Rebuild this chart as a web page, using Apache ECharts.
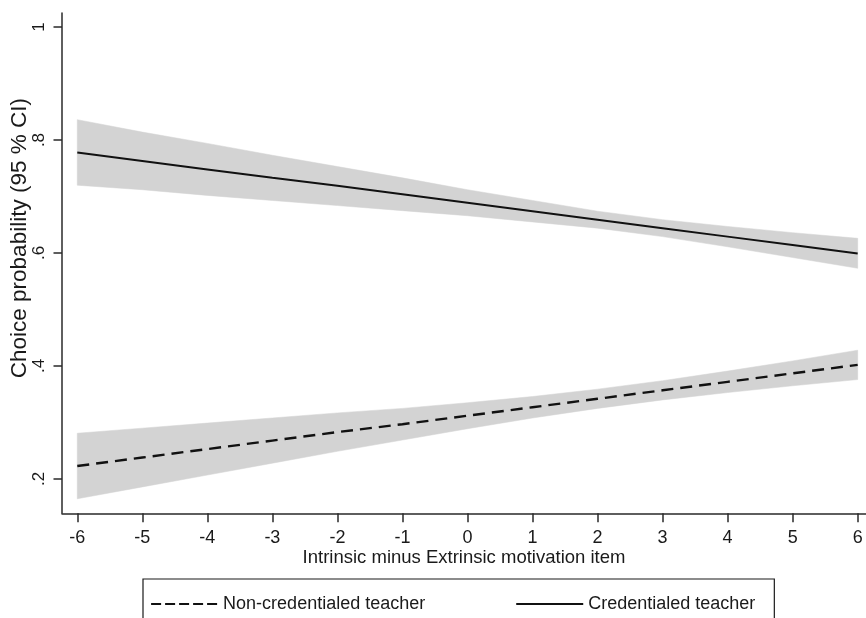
<!DOCTYPE html>
<html>
<head>
<meta charset="utf-8">
<script src="https://cdn.jsdelivr.net/npm/echarts@6/dist/echarts.min.js"></script>
<style>html,body{margin:0;padding:0;background:#fff}#c{width:866px;height:618px}</style>
</head>
<body>
<div id="c"></div>
<script>
var xValues = [-6, -5, -4, -3, -2, -1, 0, 1, 2, 3, 4, 5, 6];
var credLine  = [0.778, 0.763, 0.748, 0.733, 0.719, 0.704, 0.689, 0.674, 0.659, 0.644, 0.629, 0.614, 0.599];
var credUpper = [0.836, 0.814, 0.794, 0.773, 0.753, 0.733, 0.712, 0.693, 0.674, 0.659, 0.647, 0.636, 0.626];
var credLower = [0.720, 0.712, 0.702, 0.693, 0.684, 0.675, 0.666, 0.655, 0.644, 0.629, 0.611, 0.592, 0.573];
var nonLine   = [0.223, 0.238, 0.253, 0.268, 0.283, 0.297, 0.312, 0.327, 0.342, 0.357, 0.372, 0.387, 0.402];
var nonUpper  = [0.281, 0.290, 0.299, 0.308, 0.317, 0.325, 0.335, 0.346, 0.359, 0.374, 0.391, 0.409, 0.428];
var nonLower  = [0.165, 0.186, 0.207, 0.228, 0.249, 0.269, 0.289, 0.308, 0.325, 0.340, 0.353, 0.365, 0.376];
var xTicks = [-6, -5, -4, -3, -2, -1, 0, 1, 2, 3, 4, 5, 6];
var yTicks = [0.2, 0.4, 0.6, 0.8, 1];
var yTickLabels = ['.2', '.4', '.6', '.8', '1'];
var xTitle = 'Intrinsic minus Extrinsic motivation item';
var yTitle = 'Choice probability (95 % CI)';
var nameNon = 'Non-credentialed teacher';
var nameCred = 'Credentialed teacher';

var FONT = "'Liberation Sans', Arial, Helvetica, sans-serif";
var AX = '#2a2a2a';
var TXT = '#1a1a1a';
var BAND = '#d3d3d3';

function pairs(arr) { return xValues.map(function (x, i) { return [x, arr[i]]; }); }
function bandData(lo, up) { return xValues.map(function (x, i) { return [x, lo[i], up[i]]; }); }

function bandRenderer(lo, up) {
  return function (params, api) {
    if (params.dataIndex !== 0) return null;
    var pts = [];
    for (var i = 0; i < xValues.length; i++) pts.push(api.coord([xValues[i], up[i]]));
    for (var j = xValues.length - 1; j >= 0; j--) pts.push(api.coord([xValues[j], lo[j]]));
    return { type: 'polygon', shape: { points: pts }, style: { fill: BAND, stroke: BAND, lineWidth: 0.5 } };
  };
}

var chart = echarts.init(document.getElementById('c'), null, { renderer: 'canvas' });
chart.setOption({
  animation: false,
  backgroundColor: '#fff',
  textStyle: { fontFamily: FONT },
  grid: { left: 62, right: 0, top: 13, bottom: 104.7, outerBoundsMode: 'none', containLabel: false },
  xAxis: {
    type: 'value', min: -6.235, max: 6.128,
    name: xTitle, nameLocation: 'middle', nameGap: 35, nameMoveOverlap: false,
    nameTextStyle: { fontSize: 18.5, color: TXT, fontFamily: FONT },
    axisLine: { show: true, onZero: false, lineStyle: { color: AX, width: 1.5 } },
    axisTick: { show: true, length: 9, lineStyle: { color: AX, width: 1.5 }, customValues: xTicks },
    axisLabel: { customValues: xTicks, fontSize: 18, color: TXT, margin: 16, fontFamily: FONT },
    splitLine: { show: false }
  },
  yAxis: {
    type: 'value', min: 0.1393, max: 1.0248,
    name: yTitle, nameLocation: 'middle', nameGap: 30.5, nameRotate: 90, nameMoveOverlap: false,
    nameTextStyle: { fontSize: 22.5, color: TXT, fontFamily: FONT, padding: [0, 0, 0, 50] },
    axisLine: { show: true, onZero: false, lineStyle: { color: AX, width: 1.5 } },
    axisTick: { show: true, length: 8.5, lineStyle: { color: AX, width: 1.5 }, customValues: yTicks },
    axisLabel: {
      customValues: yTicks, rotate: 90, fontSize: 17, color: TXT, margin: 14.5, fontFamily: FONT,
      formatter: function (v) { var i = yTicks.indexOf(+v.toFixed(4)); return i >= 0 ? yTickLabels[i] : ''; }
    },
    splitLine: { show: false }
  },
  legend: {
    left: 143, top: 579,
    padding: [16, 19, 16, 7],
    itemGap: 90, itemWidth: 67, itemHeight: 14,
    borderColor: TXT, borderWidth: 1.2, borderRadius: 0,
    textStyle: { fontSize: 18, color: TXT, fontFamily: FONT },
    data: [
      { name: nameNon, lineStyle: { type: [10, 4], width: 2.2, color: '#111' },
        itemStyle: { color: 'rgba(0,0,0,0)', borderWidth: 0, opacity: 0 } },
      { name: nameCred, lineStyle: { type: 'solid', width: 2, color: '#111' },
        itemStyle: { color: 'rgba(0,0,0,0)', borderWidth: 0, opacity: 0 } }
    ]
  },
  series: [
    { name: 'credBand', type: 'custom', data: bandData(credLower, credUpper), encode: { x: 0, y: [1, 2] },
      renderItem: bandRenderer(credLower, credUpper), silent: true, z: 1 },
    { name: 'nonBand', type: 'custom', data: bandData(nonLower, nonUpper), encode: { x: 0, y: [1, 2] },
      renderItem: bandRenderer(nonLower, nonUpper), silent: true, z: 1 },
    { name: nameNon, type: 'line', data: pairs(nonLine), symbol: 'none', color: '#111',
      lineStyle: { color: '#111', width: 2.4, type: [12, 7] }, z: 3 },
    { name: nameCred, type: 'line', data: pairs(credLine), symbol: 'none', color: '#111',
      lineStyle: { color: '#111', width: 2 }, z: 3 }
  ]
});
</script>
</body>
</html>
